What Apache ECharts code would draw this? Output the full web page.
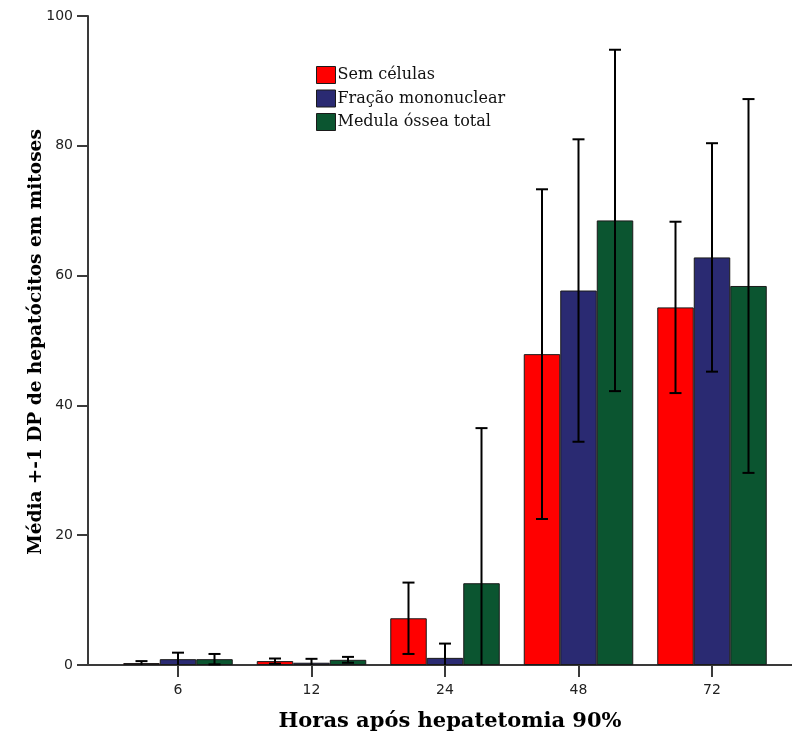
<!DOCTYPE html>
<html>
<head>
<meta charset="utf-8">
<script src="https://cdn.jsdelivr.net/npm/echarts@6/dist/echarts.min.js"></script>
<style>
html, body { margin: 0; padding: 0; background: #fff; }
#chart { width: 792px; height: 734px; }
</style>
</head>
<body>
<div id="chart"></div>
<script>
// Hours after 90% hepatectomy
const hours = ['6', '12', '24', '48', '72'];
const groupNames = ['Sem células', 'Fração mononuclear', 'Medula óssea total'];

// Mean mitotic hepatocytes and standard deviation per group
const semCelulasMean = [0.3, 0.6, 7.2, 47.9, 55.1];
const semCelulasSD   = [0.3, 0.4, 5.5, 25.4, 13.2];
const fracaoMean     = [0.9, 0.35, 1.1, 57.7, 62.8];
const fracaoSD       = [1.0, 0.6, 2.2, 23.3, 17.6];
const medulaMean     = [0.9, 0.8, 12.6, 68.5, 58.4];
const medulaSD       = [0.8, 0.45, 23.9, 26.3, 28.8];

const yMin = 0, yMax = 100, yStep = 20;

const colors = ['#ff0000', '#2a2a72', '#0b5530'];
const BAR_W = 36.5;
const CAP_W = 12;
const AXIS_COLOR = '#3a3a3a';

const means = [semCelulasMean, fracaoMean, medulaMean];
const sds = [semCelulasSD, fracaoSD, medulaSD];

function barSeries(k) {
  return {
    name: groupNames[k],
    type: 'bar',
    xAxisIndex: 0,
    yAxisIndex: 0,
    barWidth: BAR_W,
    barGap: '0%',
    itemStyle: { color: colors[k], borderColor: '#1a1a1a', borderWidth: 1 },
    data: means[k],
    z: 2
  };
}

// Mean ± 1 SD whiskers, clipped at the horizontal axis
function errorSeries(k) {
  return {
    name: groupNames[k] + ' DP',
    type: 'custom',
    xAxisIndex: 0,
    yAxisIndex: 0,
    z: 5,
    silent: true,
    encode: { x: 0, y: 1 },
    data: means[k].map((m, i) => [i, m, sds[k][i]]),
    renderItem(params, api) {
      const i = api.value(0);
      const m = api.value(1);
      const sd = api.value(2);
      const hi = m + sd;
      const lo = Math.max(m - sd, yMin);
      const top = api.coord([i, hi]);
      const x = top[0] + (k - 1) * BAR_W;
      const yHi = top[1];
      const yLo = api.coord([i, lo])[1];
      const st = { stroke: '#000', lineWidth: 2 };
      const children = [
        { type: 'line', shape: { x1: x, y1: yHi, x2: x, y2: yLo }, style: st },
        { type: 'line', shape: { x1: x - CAP_W / 2, y1: yHi, x2: x + CAP_W / 2, y2: yHi }, style: st }
      ];
      if (m - sd > yMin) {
        children.push({ type: 'line', shape: { x1: x - CAP_W / 2, y1: yLo, x2: x + CAP_W / 2, y2: yLo }, style: st });
      }
      return { type: 'group', children };
    }
  };
}

const chart = echarts.init(document.getElementById('chart'), null, { renderer: 'canvas' });

chart.setOption({
  animation: false,
  backgroundColor: '#ffffff',
  grid: [
    { left: 111.25, right: 13.25, top: 16, bottom: 69 },
    { left: 88, right: 0, top: 16, bottom: 69 }
  ],
  legend: {
    data: groupNames,
    orient: 'vertical',
    left: 316,
    top: 66,
    padding: 0,
    itemWidth: 19,
    itemHeight: 17,
    itemGap: 5.5,
    icon: 'rect',
    itemStyle: { borderColor: '#1a1a1a', borderWidth: 1 },
    textStyle: { fontFamily: 'DejaVu Serif', fontSize: 16, lineHeight: 17, color: '#111', padding: [0, 0, 0, -3] }
  },
  xAxis: [
    {
      type: 'category',
      gridIndex: 0,
      data: hours,
      axisLine: { show: false },
      axisTick: { show: true, alignWithLabel: true, length: 12, lineStyle: { color: AXIS_COLOR, width: 2 } },
      axisLabel: { margin: 18, fontFamily: 'DejaVu Sans', fontSize: 14, color: '#222' },
      splitLine: { show: false }
    },
    {
      type: 'value',
      gridIndex: 1,
      min: 0,
      max: 1,
      axisLine: { show: true, lineStyle: { color: AXIS_COLOR, width: 2 } },
      axisTick: { show: false },
      axisLabel: { show: false },
      splitLine: { show: false }
    }
  ],
  yAxis: [
    {
      type: 'value',
      gridIndex: 0,
      min: yMin,
      max: yMax,
      interval: yStep,
      show: false
    },
    {
      type: 'value',
      gridIndex: 1,
      min: yMin,
      max: yMax,
      interval: yStep,
      axisLine: { show: true, lineStyle: { color: AXIS_COLOR, width: 2 } },
      axisTick: { show: true, length: 11, lineStyle: { color: AXIS_COLOR, width: 2 } },
      axisLabel: { margin: 15, fontFamily: 'DejaVu Sans', fontSize: 14, color: '#222' },
      splitLine: { show: false }
    }
  ],
  graphic: [
    {
      type: 'text',
      x: 450,
      y: 722,
      style: {
        text: 'Horas após hepatetomia 90%',
        fontFamily: 'DejaVu Serif',
        fontWeight: 'bold',
        fontSize: 21,
        fill: '#000',
        textAlign: 'center',
        textVerticalAlign: 'middle'
      }
    },
    {
      type: 'text',
      x: 36,
      y: 342,
      rotation: Math.PI / 2,
      style: {
        text: 'Média +-1 DP de hepatócitos em mitoses',
        fontFamily: 'DejaVu Serif',
        fontWeight: 'bold',
        fontSize: 18.5,
        fill: '#000',
        textAlign: 'center',
        textVerticalAlign: 'middle'
      }
    }
  ],
  series: [
    barSeries(0), barSeries(1), barSeries(2),
    errorSeries(0), errorSeries(1), errorSeries(2)
  ]
});
</script>
</body>
</html>
